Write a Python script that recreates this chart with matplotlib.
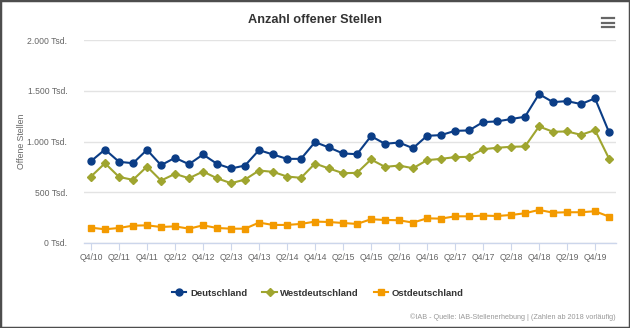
import matplotlib
matplotlib.use('Agg')
import matplotlib.pyplot as plt
from matplotlib.lines import Line2D
from matplotlib.patches import Rectangle
from matplotlib.ticker import FuncFormatter

plt.rcParams['font.family'] = ['Liberation Sans', 'DejaVu Sans']

# Quartale Q4/10 bis Q1/20
quartale = []
for jahr in range(10, 21):
    for q in range(1, 5):
        if (jahr == 10 and q < 4) or (jahr == 20 and q > 1):
            continue
        quartale.append(f'Q{q}/{jahr}')

# Werte in Tsd.
deutschland = [806, 921, 800, 786, 918, 767, 839, 776, 872, 780, 734, 763, 915, 872, 829, 829, 994,
               941, 882, 875, 1053, 977, 990, 934, 1056, 1063, 1105, 1109, 1191, 1198, 1221, 1244,
               1467, 1388, 1398, 1369, 1425, 1092]
westdeutschland = [655, 786, 651, 622, 753, 615, 681, 638, 704, 638, 589, 625, 714, 701, 655, 642, 783,
                   734, 688, 691, 823, 750, 763, 737, 816, 829, 846, 849, 924, 938, 948, 951,
                   1148, 1096, 1099, 1066, 1112, 832]
ostdeutschland = [151, 135, 148, 171, 174, 158, 164, 141, 174, 148, 141, 141, 201, 178, 178, 188, 211,
                  207, 197, 188, 234, 227, 224, 201, 243, 240, 263, 263, 270, 266, 276, 293,
                  326, 299, 303, 303, 313, 260]

c_de = '#0b3d86'
c_west = '#9fa52f'
c_ost = '#f39a00'

fig = plt.figure(figsize=(6.3, 3.28), dpi=100)
ax = fig.add_axes([84 / 630, 1 - 243 / 328, (616 - 84) / 630, (243 - 40) / 328])

x = list(range(len(quartale)))
ax.plot(x, deutschland, color=c_de, lw=1.5, marker='o', ms=5, label='Deutschland', zorder=3)
ax.plot(x, westdeutschland, color=c_west, lw=1.5, marker='D', ms=3.6, label='Westdeutschland', zorder=3)
ax.plot(x, ostdeutschland, color=c_ost, lw=1.5, marker='s', ms=4.8, label='Ostdeutschland', zorder=3)

ax.set_xlim(-0.5, len(quartale) - 0.5)
ax.set_ylim(0, 2000)
ax.set_yticks([0, 500, 1000, 1500, 2000])
ax.yaxis.set_major_formatter(FuncFormatter(lambda v, p: f'{int(v):,}'.replace(',', '.') + ' Tsd.'))
ax.set_xticks(x[::2])
ax.set_xticklabels(quartale[::2])

ax.grid(axis='y', color='#e3e3e3', lw=1)
ax.set_axisbelow(True)
for s in ['top', 'right', 'left']:
    ax.spines[s].set_visible(False)
ax.spines['bottom'].set_color('#ccd6eb')
ax.spines['bottom'].set_linewidth(1)
ax.tick_params(axis='y', length=0, labelsize=6.2, labelcolor='#666666', pad=12)
ax.tick_params(axis='x', length=5, color='#ccd6eb', labelsize=6.2, labelcolor='#666666', pad=2)
ax.set_ylabel('Offene Stellen', fontsize=6.3, color='#666666', labelpad=1)

fig.text(0.5, 1 - 20 / 328, 'Anzahl offener Stellen', ha='center', va='center',
         fontsize=9.2, fontweight='bold', color='#333333')

# Menü-Symbol
for yy in [18, 22.5, 27]:
    fig.add_artist(Line2D([602 / 630, 614 / 630], [1 - yy / 328, 1 - yy / 328],
                          color='#666666', lw=1.6, transform=fig.transFigure))

leg = fig.legend(loc='center', bbox_to_anchor=(0.505, 1 - 293 / 328), ncol=3, frameon=False,
                 handlelength=1.5, columnspacing=1.6, handletextpad=0.4,
                 prop={'size': 6.8, 'weight': 'bold'})
for t in leg.get_texts():
    t.set_color('#333333')

fig.text(616 / 630, 1 - 317 / 328, '©IAB - Quelle: IAB-Stellenerhebung | (Zahlen ab 2018 vorläufig)',
         ha='right', va='center', fontsize=5.25, color='#999999')

fig.add_artist(Rectangle((0, 0), 1, 1, transform=fig.transFigure, fill=False,
                         edgecolor='#4d4d4d', lw=2.5))

fig.savefig('out.png', dpi=100)
